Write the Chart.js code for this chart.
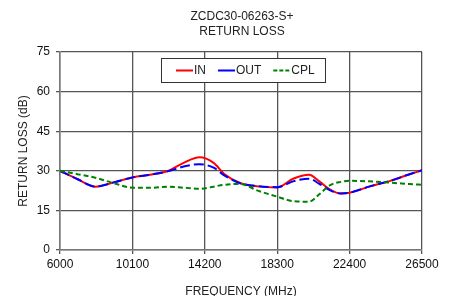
<!DOCTYPE html>
<html>
<head>
<meta charset="utf-8">
<script src="https://cdn.jsdelivr.net/npm/chart.js@4.4.1/dist/chart.umd.min.js"></script>
<style>
  html, body { margin: 0; padding: 0; background: #fff; }
  #wrap { width: 456px; height: 296px; }
</style>
</head>
<body>
<div id="wrap"><canvas id="rlChart" width="456" height="296"></canvas></div>
<script>
// frequency points (MHz)
const freqs = [6000, 7000, 8000, 9100, 10100, 11200, 12100, 13000, 13900, 14700, 15300, 16200,
  17200, 18300, 19200, 20100, 20700, 21300, 21900, 22400, 23500, 24700, 25800, 26500];

// return loss in dB
const inLoss = [30, 26.8, 24.0, 25.7, 27.5, 28.6, 29.9, 33.0, 35.1, 33.0, 28.8, 25.4,
  24.1, 23.7, 27.0, 28.5, 25.9, 22.9, 21.4, 21.7, 24.0, 26.2, 28.7, 30.2];
const outLoss = [30, 26.8, 24.0, 25.7, 27.5, 28.6, 29.8, 31.6, 32.5, 31.2, 28.3, 25.3,
  24.2, 23.8, 26.0, 27.0, 25.0, 22.6, 21.4, 21.7, 24.0, 26.2, 28.7, 30.2];
const cplLoss = [30, 28.7, 27.4, 25.2, 23.6, 23.6, 24.0, 23.6, 23.2, 24.0, 24.7, 25.0,
  22.5, 20.2, 18.5, 18.3, 21.2, 24.6, 25.8, 26.2, 26.0, 25.5, 25.0, 24.7];

const xTicks = [6000, 10100, 14200, 18300, 22400, 26500];
const yTicks = [0, 15, 30, 45, 60, 75];

const titleLines = ['ZCDC30-06263-S+', 'RETURN LOSS'];

const FONT = 'Liberation Sans, Arial, sans-serif';

const toPoints = vals => vals.map((v, i) => ({ x: freqs[i], y: v }));

// title centred over the plot area (chart.js centres it over the whole box)
const plotTitle = {
  id: 'plotTitle',
  afterDraw(chart) {
    const { ctx, chartArea } = chart;
    const cx = (chartArea.left + chartArea.right) / 2;
    ctx.save();
    ctx.font = '12px ' + FONT;
    ctx.fillStyle = '#222';
    ctx.textAlign = 'center';
    ctx.textBaseline = 'middle';
    titleLines.forEach((t, i) => ctx.fillText(t, cx + 1, 17 + i * 15));
    ctx.restore();
  }
};

// legend drawn as a box inside the plot, like the original
const boxLegend = {
  id: 'boxLegend',
  afterDraw(chart) {
    const { ctx, chartArea } = chart;
    const left = Math.round(chartArea.left + 101);
    const top = Math.round(chartArea.top + 6);
    const w = 164, h = 24;
    ctx.save();
    ctx.fillStyle = '#fff';
    ctx.fillRect(left, top, w, h);
    ctx.strokeStyle = '#333';
    ctx.lineWidth = 1;
    ctx.strokeRect(left + 0.5, top + 0.5, w, h);
    ctx.font = '12px ' + FONT;
    ctx.textBaseline = 'middle';
    let x = left + 15;
    const y = top + h / 2 + 0.5;
    chart.data.datasets.forEach(ds => {
      ctx.strokeStyle = ds.borderColor;
      ctx.lineWidth = 2;
      ctx.setLineDash(ds.legendDash || []);
      ctx.beginPath();
      ctx.moveTo(x, y);
      ctx.lineTo(x + 17, y);
      ctx.stroke();
      ctx.setLineDash([]);
      ctx.fillStyle = '#222';
      ctx.fillText(ds.label, x + 18, y);
      x += 18 + ctx.measureText(ds.label).width + 12;
    });
    ctx.restore();
  }
};

new Chart(document.getElementById('rlChart'), {
  type: 'line',
  data: {
    datasets: [
      {
        label: 'IN',
        data: toPoints(inLoss),
        borderColor: '#ff0000',
        borderWidth: 2,
        order: 2
      },
      {
        label: 'OUT',
        data: toPoints(outLoss),
        borderColor: '#0000ff',
        borderWidth: 2,
        borderDash: [10, 4],
        order: 1
      },
      {
        label: 'CPL',
        data: toPoints(cplLoss),
        borderColor: '#008000',
        borderWidth: 2,
        borderDash: [5, 3],
        legendDash: [4, 2],
        order: 0
      }
    ]
  },
  options: {
    responsive: false,
    animation: false,
    events: [],
    layout: { padding: { left: 0, right: 34, top: 52, bottom: 0 } },
    elements: {
      point: { radius: 0 },
      line: { cubicInterpolationMode: 'monotone', fill: false }
    },
    scales: {
      x: {
        type: 'linear',
        min: 6000,
        max: 26500,
        afterBuildTicks: s => { s.ticks = xTicks.map(v => ({ value: v })); },
        afterFit: s => { s.height = 46; },
        ticks: {
          color: '#111',
          font: { family: FONT, size: 12 },
          padding: 3,
          maxRotation: 0,
          callback: v => String(v)
        },
        grid: { color: '#555', lineWidth: 1.3, tickLength: 4 },
        border: { color: '#777', width: 1.5 },
        title: {
          display: true,
          text: 'FREQUENCY (MHz)',
          color: '#222',
          font: { family: FONT, size: 12, lineHeight: 0.8 },
          padding: { top: 0, bottom: 0 }
        }
      },
      y: {
        min: 0,
        max: 75,
        afterBuildTicks: s => { s.ticks = yTicks.map(v => ({ value: v })); },
        afterFit: s => { s.width = 60; },
        ticks: {
          color: '#111',
          font: { family: FONT, size: 12 },
          padding: 6
        },
        grid: { color: '#555', lineWidth: 1.3, tickLength: 4 },
        border: { color: '#777', width: 1.5 },
        title: {
          display: true,
          text: 'RETURN LOSS (dB)',
          color: '#222',
          font: { family: FONT, size: 12 },
          padding: { top: 16, bottom: 0 }
        }
      }
    },
    plugins: {
      legend: { display: false },
      tooltip: { enabled: false },
      title: { display: false }
    }
  },
  plugins: [plotTitle, boxLegend]
});
</script>
</body>
</html>
